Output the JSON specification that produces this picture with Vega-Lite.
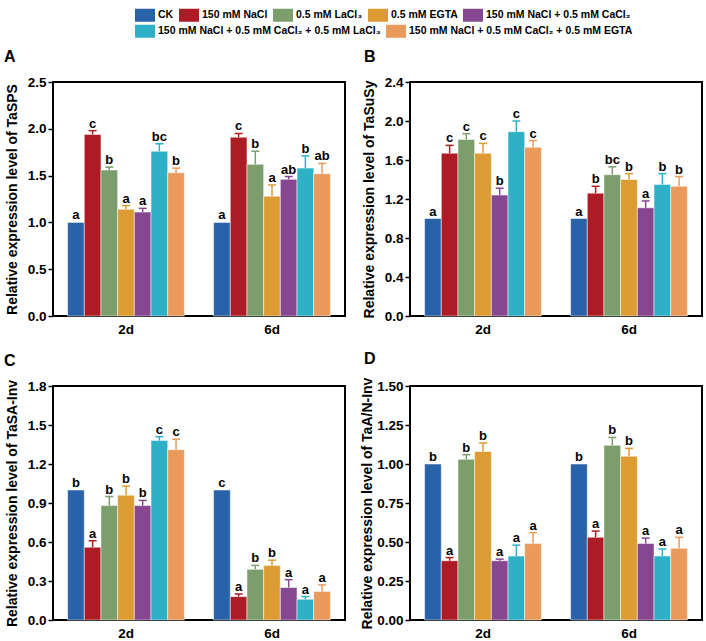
{
  "$schema": "https://vega.github.io/schema/vega-lite/v6.json",
  "padding": {"left": 3, "top": 5, "right": 2, "bottom": 2},
  "background": "white",
  "config": {
    "font": "Liberation Sans",
    "view": {"stroke": "black", "strokeWidth": 2},
    "tick": {"opacity": 1},
    "axis": {"labelFont": "Liberation Sans", "labelFontWeight": "bold", "labelColor": "black", "titleColor": "black", "titleFont": "Liberation Sans", "grid": false, "domain": false},
    "axisY": {"tickColor": "black", "tickWidth": 1.5, "tickSize": 5, "labelFontSize": 13.5, "titleFontSize": 14, "titleFontWeight": "bold", "titlePadding": 8, "labelPadding": 2, "labelOverlap": false},
    "axisX": {"ticks": false, "labelFontSize": 13.5, "labelPadding": 6, "labelAngle": 0},
    "title": {"fontSize": 16, "fontWeight": "bold", "anchor": "start", "frame": "group", "offset": 10, "color": "black", "font": "Liberation Sans"}
  },
  "resolve": {"scale": {"color": "shared", "fill": "shared"}, "legend": {"color": "shared", "fill": "shared"}},
  "datasets": {
    "rows": [
      {"gene": "A", "day": "2d", "trt": "CK", "value": 1.0, "upper": 1.0, "letter": "a"},
      {"gene": "A", "day": "2d", "trt": "150 mM NaCl", "value": 1.94, "upper": 1.98, "letter": "c"},
      {"gene": "A", "day": "2d", "trt": "0.5 mM LaCl₃", "value": 1.56, "upper": 1.59, "letter": "b"},
      {"gene": "A", "day": "2d", "trt": "0.5 mM EGTA", "value": 1.14, "upper": 1.18, "letter": "a"},
      {"gene": "A", "day": "2d", "trt": "150 mM NaCl + 0.5 mM CaCl₂", "value": 1.11, "upper": 1.15, "letter": "a"},
      {"gene": "A", "day": "2d", "trt": "150 mM NaCl + 0.5 mM CaCl₂ + 0.5 mM LaCl₃", "value": 1.76, "upper": 1.84, "letter": "bc"},
      {"gene": "A", "day": "2d", "trt": "150 mM NaCl + 0.5 mM CaCl₂ + 0.5 mM EGTA", "value": 1.53, "upper": 1.58, "letter": "b"},
      {"gene": "A", "day": "6d", "trt": "CK", "value": 1.0, "upper": 1.0, "letter": "a"},
      {"gene": "A", "day": "6d", "trt": "150 mM NaCl", "value": 1.91, "upper": 1.95, "letter": "c"},
      {"gene": "A", "day": "6d", "trt": "0.5 mM LaCl₃", "value": 1.62, "upper": 1.76, "letter": "b"},
      {"gene": "A", "day": "6d", "trt": "0.5 mM EGTA", "value": 1.28, "upper": 1.40, "letter": "a"},
      {"gene": "A", "day": "6d", "trt": "150 mM NaCl + 0.5 mM CaCl₂", "value": 1.46, "upper": 1.49, "letter": "ab"},
      {"gene": "A", "day": "6d", "trt": "150 mM NaCl + 0.5 mM CaCl₂ + 0.5 mM LaCl₃", "value": 1.58, "upper": 1.71, "letter": "b"},
      {"gene": "A", "day": "6d", "trt": "150 mM NaCl + 0.5 mM CaCl₂ + 0.5 mM EGTA", "value": 1.52, "upper": 1.63, "letter": "ab"},
      {"gene": "B", "day": "2d", "trt": "CK", "value": 1.0, "upper": 1.0, "letter": "a"},
      {"gene": "B", "day": "2d", "trt": "150 mM NaCl", "value": 1.67, "upper": 1.75, "letter": "c"},
      {"gene": "B", "day": "2d", "trt": "0.5 mM LaCl₃", "value": 1.81, "upper": 1.87, "letter": "c"},
      {"gene": "B", "day": "2d", "trt": "0.5 mM EGTA", "value": 1.67, "upper": 1.77, "letter": "c"},
      {"gene": "B", "day": "2d", "trt": "150 mM NaCl + 0.5 mM CaCl₂", "value": 1.24, "upper": 1.31, "letter": "b"},
      {"gene": "B", "day": "2d", "trt": "150 mM NaCl + 0.5 mM CaCl₂ + 0.5 mM LaCl₃", "value": 1.89, "upper": 2.0, "letter": "c"},
      {"gene": "B", "day": "2d", "trt": "150 mM NaCl + 0.5 mM CaCl₂ + 0.5 mM EGTA", "value": 1.73, "upper": 1.80, "letter": "c"},
      {"gene": "B", "day": "6d", "trt": "CK", "value": 1.0, "upper": 1.0, "letter": "a"},
      {"gene": "B", "day": "6d", "trt": "150 mM NaCl", "value": 1.26, "upper": 1.33, "letter": "b"},
      {"gene": "B", "day": "6d", "trt": "0.5 mM LaCl₃", "value": 1.45, "upper": 1.53, "letter": "bc"},
      {"gene": "B", "day": "6d", "trt": "0.5 mM EGTA", "value": 1.40, "upper": 1.46, "letter": "b"},
      {"gene": "B", "day": "6d", "trt": "150 mM NaCl + 0.5 mM CaCl₂", "value": 1.11, "upper": 1.18, "letter": "a"},
      {"gene": "B", "day": "6d", "trt": "150 mM NaCl + 0.5 mM CaCl₂ + 0.5 mM LaCl₃", "value": 1.35, "upper": 1.46, "letter": "b"},
      {"gene": "B", "day": "6d", "trt": "150 mM NaCl + 0.5 mM CaCl₂ + 0.5 mM EGTA", "value": 1.33, "upper": 1.43, "letter": "b"},
      {"gene": "C", "day": "2d", "trt": "CK", "value": 1.0, "upper": 1.0, "letter": "b"},
      {"gene": "C", "day": "2d", "trt": "150 mM NaCl", "value": 0.56, "upper": 0.61, "letter": "a"},
      {"gene": "C", "day": "2d", "trt": "0.5 mM LaCl₃", "value": 0.88, "upper": 0.95, "letter": "b"},
      {"gene": "C", "day": "2d", "trt": "0.5 mM EGTA", "value": 0.96, "upper": 1.03, "letter": "b"},
      {"gene": "C", "day": "2d", "trt": "150 mM NaCl + 0.5 mM CaCl₂", "value": 0.88, "upper": 0.92, "letter": "b"},
      {"gene": "C", "day": "2d", "trt": "150 mM NaCl + 0.5 mM CaCl₂ + 0.5 mM LaCl₃", "value": 1.38, "upper": 1.41, "letter": "c"},
      {"gene": "C", "day": "2d", "trt": "150 mM NaCl + 0.5 mM CaCl₂ + 0.5 mM EGTA", "value": 1.31, "upper": 1.39, "letter": "c"},
      {"gene": "C", "day": "6d", "trt": "CK", "value": 1.0, "upper": 1.0, "letter": "c"},
      {"gene": "C", "day": "6d", "trt": "150 mM NaCl", "value": 0.18, "upper": 0.20, "letter": "a"},
      {"gene": "C", "day": "6d", "trt": "0.5 mM LaCl₃", "value": 0.39, "upper": 0.42, "letter": "b"},
      {"gene": "C", "day": "6d", "trt": "0.5 mM EGTA", "value": 0.42, "upper": 0.46, "letter": "b"},
      {"gene": "C", "day": "6d", "trt": "150 mM NaCl + 0.5 mM CaCl₂", "value": 0.25, "upper": 0.31, "letter": "a"},
      {"gene": "C", "day": "6d", "trt": "150 mM NaCl + 0.5 mM CaCl₂ + 0.5 mM LaCl₃", "value": 0.16, "upper": 0.18, "letter": "a"},
      {"gene": "C", "day": "6d", "trt": "150 mM NaCl + 0.5 mM CaCl₂ + 0.5 mM EGTA", "value": 0.22, "upper": 0.27, "letter": "a"},
      {"gene": "D", "day": "2d", "trt": "CK", "value": 1.0, "upper": 1.0, "letter": "b"},
      {"gene": "D", "day": "2d", "trt": "150 mM NaCl", "value": 0.38, "upper": 0.40, "letter": "a"},
      {"gene": "D", "day": "2d", "trt": "0.5 mM LaCl₃", "value": 1.03, "upper": 1.06, "letter": "b"},
      {"gene": "D", "day": "2d", "trt": "0.5 mM EGTA", "value": 1.08, "upper": 1.135, "letter": "b"},
      {"gene": "D", "day": "2d", "trt": "150 mM NaCl + 0.5 mM CaCl₂", "value": 0.38, "upper": 0.39, "letter": "a"},
      {"gene": "D", "day": "2d", "trt": "150 mM NaCl + 0.5 mM CaCl₂ + 0.5 mM LaCl₃", "value": 0.41, "upper": 0.48, "letter": "a"},
      {"gene": "D", "day": "2d", "trt": "150 mM NaCl + 0.5 mM CaCl₂ + 0.5 mM EGTA", "value": 0.49, "upper": 0.56, "letter": "a"},
      {"gene": "D", "day": "6d", "trt": "CK", "value": 1.0, "upper": 1.0, "letter": "b"},
      {"gene": "D", "day": "6d", "trt": "150 mM NaCl", "value": 0.53, "upper": 0.57, "letter": "a"},
      {"gene": "D", "day": "6d", "trt": "0.5 mM LaCl₃", "value": 1.12, "upper": 1.17, "letter": "b"},
      {"gene": "D", "day": "6d", "trt": "0.5 mM EGTA", "value": 1.05, "upper": 1.10, "letter": "b"},
      {"gene": "D", "day": "6d", "trt": "150 mM NaCl + 0.5 mM CaCl₂", "value": 0.49, "upper": 0.525, "letter": "a"},
      {"gene": "D", "day": "6d", "trt": "150 mM NaCl + 0.5 mM CaCl₂ + 0.5 mM LaCl₃", "value": 0.41, "upper": 0.455, "letter": "a"},
      {"gene": "D", "day": "6d", "trt": "150 mM NaCl + 0.5 mM CaCl₂ + 0.5 mM EGTA", "value": 0.46, "upper": 0.53, "letter": "a"}
    ]
  },
  "spacing": 13,
  "vconcat": [
    {
      "width": 600, "height": 30,
      "view": {"stroke": null},
      "data": {"values": []},
      "mark": {"type": "text"},
      "encoding": {}
    },
    {
      "spacing": {"row": 13, "column": 13},
      "columns": 2,
      "concat": [
        {
          "width": 292, "height": 234,
          "title": {"text": "A", "dx": -49},
          "data": {"name": "rows"},
          "transform": [{"filter": "datum.gene === 'A'"}],
          "encoding": {
            "x": {"field": "day", "type": "nominal", "title": null, "scale": {"paddingInner": 0.2, "paddingOuter": 0.1}},
            "xOffset": {"field": "trt", "type": "nominal", "sort": ["CK", "150 mM NaCl", "0.5 mM LaCl₃", "0.5 mM EGTA", "150 mM NaCl + 0.5 mM CaCl₂", "150 mM NaCl + 0.5 mM CaCl₂ + 0.5 mM LaCl₃", "150 mM NaCl + 0.5 mM CaCl₂ + 0.5 mM EGTA"], "scale": {"paddingInner": 0}}
          },
          "layer": [
            {"mark": {"type": "bar", "stroke": "white", "strokeWidth": 0.5},
             "encoding": {
               "y": {"field": "value", "type": "quantitative", "title": "Relative expression level of TaSPS", "scale": {"domain": [0, 2.5], "nice": false}, "axis": {"values": [0, 0.5, 1.0, 1.5, 2.0, 2.5], "format": ".1f"}},
               "color": {"field": "trt", "type": "nominal",
                 "scale": {"domain": ["CK", "150 mM NaCl", "0.5 mM LaCl₃", "0.5 mM EGTA", "150 mM NaCl + 0.5 mM CaCl₂", "150 mM NaCl + 0.5 mM CaCl₂ + 0.5 mM LaCl₃", "150 mM NaCl + 0.5 mM CaCl₂ + 0.5 mM EGTA"], "range": ["#2862a9", "#ad1b24", "#7b9e6c", "#dd9b34", "#85478f", "#2eb0c7", "#ea9a5a"]},
                 "legend": {"title": null, "orient": "none", "legendX": 82, "legendY": 0, "direction": "horizontal",
                   "values": ["CK", "150 mM NaCl", "0.5 mM LaCl₃", "0.5 mM EGTA", "150 mM NaCl + 0.5 mM CaCl₂"],
                   "symbolType": "M-1,-0.65H1V0.65H-1Z", "symbolSize": 400, "symbolStrokeWidth": 0, "symbolOpacity": 1,
                   "labelFont": "Liberation Sans", "labelFontWeight": "bold", "labelFontSize": 10.5, "labelColor": "black", "labelLimit": 400,
                   "labelOffset": 3, "columnPadding": 5, "padding": 0}}
             }},
            {"transform": [{"filter": "datum.upper > datum.value"}], "mark": {"type": "rule", "strokeWidth": 1.5},
             "encoding": {"y": {"field": "value", "type": "quantitative", "title": "Relative expression level of TaSPS", "scale": {"domain": [0, 2.5], "nice": false}, "axis": {"values": [0, 0.5, 1.0, 1.5, 2.0, 2.5], "format": ".1f"}}, "y2": {"field": "upper"},
               "stroke": {"field": "trt", "type": "nominal", "legend": null, "scale": {"domain": ["CK", "150 mM NaCl", "0.5 mM LaCl₃", "0.5 mM EGTA", "150 mM NaCl + 0.5 mM CaCl₂", "150 mM NaCl + 0.5 mM CaCl₂ + 0.5 mM LaCl₃", "150 mM NaCl + 0.5 mM CaCl₂ + 0.5 mM EGTA"], "range": ["#2862a9", "#ad1b24", "#7b9e6c", "#dd9b34", "#85478f", "#2eb0c7", "#ea9a5a"]}}}},
            {"transform": [{"filter": "datum.upper > datum.value"}], "mark": {"type": "tick", "thickness": 1.5, "size": 8, "opacity": 1},
             "encoding": {"y": {"field": "upper", "type": "quantitative", "title": "Relative expression level of TaSPS", "scale": {"domain": [0, 2.5], "nice": false}, "axis": {"values": [0, 0.5, 1.0, 1.5, 2.0, 2.5], "format": ".1f"}},
               "fill": {"field": "trt", "type": "nominal",
                 "scale": {"domain": ["150 mM NaCl + 0.5 mM CaCl₂ + 0.5 mM LaCl₃", "150 mM NaCl + 0.5 mM CaCl₂ + 0.5 mM EGTA", "CK", "150 mM NaCl", "0.5 mM LaCl₃", "0.5 mM EGTA", "150 mM NaCl + 0.5 mM CaCl₂"], "range": ["#2eb0c7", "#ea9a5a", "#2862a9", "#ad1b24", "#7b9e6c", "#dd9b34", "#85478f"]},
                 "legend": {"title": null, "orient": "none", "legendX": 82, "legendY": 16, "direction": "horizontal",
                   "values": ["150 mM NaCl + 0.5 mM CaCl₂ + 0.5 mM LaCl₃", "150 mM NaCl + 0.5 mM CaCl₂ + 0.5 mM EGTA"],
                   "symbolType": "M-1,-0.65H1V0.65H-1Z", "symbolSize": 400, "symbolStrokeWidth": 0, "symbolOpacity": 1,
                   "labelFont": "Liberation Sans", "labelFontWeight": "bold", "labelFontSize": 10.5, "labelColor": "black", "labelLimit": 400,
                   "labelOffset": 3, "columnPadding": 5, "padding": 0}}}},
            {"mark": {"type": "text", "dy": -3, "baseline": "alphabetic", "fontWeight": "bold", "fontSize": 13, "color": "black", "font": "Liberation Sans"},
             "encoding": {"y": {"field": "upper", "type": "quantitative", "title": "Relative expression level of TaSPS", "scale": {"domain": [0, 2.5], "nice": false}, "axis": {"values": [0, 0.5, 1.0, 1.5, 2.0, 2.5], "format": ".1f"}}, "text": {"field": "letter"}}}
          ]
        },
        {
          "width": 292, "height": 234,
          "title": {"text": "B", "dx": -46},
          "data": {"name": "rows"},
          "transform": [{"filter": "datum.gene === 'B'"}],
          "encoding": {
            "x": {"field": "day", "type": "nominal", "title": null, "scale": {"paddingInner": 0.2, "paddingOuter": 0.1}},
            "xOffset": {"field": "trt", "type": "nominal", "sort": ["CK", "150 mM NaCl", "0.5 mM LaCl₃", "0.5 mM EGTA", "150 mM NaCl + 0.5 mM CaCl₂", "150 mM NaCl + 0.5 mM CaCl₂ + 0.5 mM LaCl₃", "150 mM NaCl + 0.5 mM CaCl₂ + 0.5 mM EGTA"], "scale": {"paddingInner": 0}}
          },
          "layer": [
            {"mark": {"type": "bar", "stroke": "white", "strokeWidth": 0.5},
             "encoding": {
               "y": {"field": "value", "type": "quantitative", "title": "Relative expression level of TaSuSy", "scale": {"domain": [0, 2.4], "nice": false}, "axis": {"values": [0, 0.4, 0.8, 1.2, 1.6, 2.0, 2.4], "format": ".1f"}},
               "color": {"field": "trt", "type": "nominal"}
             }},
            {"transform": [{"filter": "datum.upper > datum.value"}], "mark": {"type": "rule", "strokeWidth": 1.5},
             "encoding": {"y": {"field": "value", "type": "quantitative", "title": "Relative expression level of TaSuSy", "scale": {"domain": [0, 2.4], "nice": false}, "axis": {"values": [0, 0.4, 0.8, 1.2, 1.6, 2.0, 2.4], "format": ".1f"}}, "y2": {"field": "upper"},
               "stroke": {"field": "trt", "type": "nominal", "legend": null}}},
            {"transform": [{"filter": "datum.upper > datum.value"}], "mark": {"type": "tick", "thickness": 1.5, "size": 8, "opacity": 1},
             "encoding": {"y": {"field": "upper", "type": "quantitative", "title": "Relative expression level of TaSuSy", "scale": {"domain": [0, 2.4], "nice": false}, "axis": {"values": [0, 0.4, 0.8, 1.2, 1.6, 2.0, 2.4], "format": ".1f"}},
               "fill": {"field": "trt", "type": "nominal"}}},
            {"mark": {"type": "text", "dy": -3, "baseline": "alphabetic", "fontWeight": "bold", "fontSize": 13, "color": "black", "font": "Liberation Sans"},
             "encoding": {"y": {"field": "upper", "type": "quantitative", "title": "Relative expression level of TaSuSy", "scale": {"domain": [0, 2.4], "nice": false}, "axis": {"values": [0, 0.4, 0.8, 1.2, 1.6, 2.0, 2.4], "format": ".1f"}}, "text": {"field": "letter"}}}
          ]
        },
        {
          "width": 292, "height": 234,
          "title": {"text": "C", "dx": -49},
          "data": {"name": "rows"},
          "transform": [{"filter": "datum.gene === 'C'"}],
          "encoding": {
            "x": {"field": "day", "type": "nominal", "title": null, "scale": {"paddingInner": 0.2, "paddingOuter": 0.1}},
            "xOffset": {"field": "trt", "type": "nominal", "sort": ["CK", "150 mM NaCl", "0.5 mM LaCl₃", "0.5 mM EGTA", "150 mM NaCl + 0.5 mM CaCl₂", "150 mM NaCl + 0.5 mM CaCl₂ + 0.5 mM LaCl₃", "150 mM NaCl + 0.5 mM CaCl₂ + 0.5 mM EGTA"], "scale": {"paddingInner": 0}}
          },
          "layer": [
            {"mark": {"type": "bar", "stroke": "white", "strokeWidth": 0.5},
             "encoding": {
               "y": {"field": "value", "type": "quantitative", "title": "Relative expression level of TaSA-Inv", "scale": {"domain": [0, 1.8], "nice": false}, "axis": {"values": [0, 0.3, 0.6, 0.9, 1.2, 1.5, 1.8], "format": ".1f"}},
               "color": {"field": "trt", "type": "nominal"}
             }},
            {"transform": [{"filter": "datum.upper > datum.value"}], "mark": {"type": "rule", "strokeWidth": 1.5},
             "encoding": {"y": {"field": "value", "type": "quantitative", "title": "Relative expression level of TaSA-Inv", "scale": {"domain": [0, 1.8], "nice": false}, "axis": {"values": [0, 0.3, 0.6, 0.9, 1.2, 1.5, 1.8], "format": ".1f"}}, "y2": {"field": "upper"},
               "stroke": {"field": "trt", "type": "nominal", "legend": null}}},
            {"transform": [{"filter": "datum.upper > datum.value"}], "mark": {"type": "tick", "thickness": 1.5, "size": 8, "opacity": 1},
             "encoding": {"y": {"field": "upper", "type": "quantitative", "title": "Relative expression level of TaSA-Inv", "scale": {"domain": [0, 1.8], "nice": false}, "axis": {"values": [0, 0.3, 0.6, 0.9, 1.2, 1.5, 1.8], "format": ".1f"}},
               "fill": {"field": "trt", "type": "nominal"}}},
            {"mark": {"type": "text", "dy": -3, "baseline": "alphabetic", "fontWeight": "bold", "fontSize": 13, "color": "black", "font": "Liberation Sans"},
             "encoding": {"y": {"field": "upper", "type": "quantitative", "title": "Relative expression level of TaSA-Inv", "scale": {"domain": [0, 1.8], "nice": false}, "axis": {"values": [0, 0.3, 0.6, 0.9, 1.2, 1.5, 1.8], "format": ".1f"}}, "text": {"field": "letter"}}}
          ]
        },
        {
          "width": 292, "height": 234,
          "title": {"text": "D", "dx": -46},
          "data": {"name": "rows"},
          "transform": [{"filter": "datum.gene === 'D'"}],
          "encoding": {
            "x": {"field": "day", "type": "nominal", "title": null, "scale": {"paddingInner": 0.2, "paddingOuter": 0.1}},
            "xOffset": {"field": "trt", "type": "nominal", "sort": ["CK", "150 mM NaCl", "0.5 mM LaCl₃", "0.5 mM EGTA", "150 mM NaCl + 0.5 mM CaCl₂", "150 mM NaCl + 0.5 mM CaCl₂ + 0.5 mM LaCl₃", "150 mM NaCl + 0.5 mM CaCl₂ + 0.5 mM EGTA"], "scale": {"paddingInner": 0}}
          },
          "layer": [
            {"mark": {"type": "bar", "stroke": "white", "strokeWidth": 0.5},
             "encoding": {
               "y": {"field": "value", "type": "quantitative", "title": "Relative expression level of TaA/N-Inv", "scale": {"domain": [0, 1.5], "nice": false}, "axis": {"values": [0, 0.25, 0.5, 0.75, 1.0, 1.25, 1.5], "format": ".2f", "titlePadding": 2}},
               "color": {"field": "trt", "type": "nominal"}
             }},
            {"transform": [{"filter": "datum.upper > datum.value"}], "mark": {"type": "rule", "strokeWidth": 1.5},
             "encoding": {"y": {"field": "value", "type": "quantitative", "title": "Relative expression level of TaA/N-Inv", "scale": {"domain": [0, 1.5], "nice": false}, "axis": {"values": [0, 0.25, 0.5, 0.75, 1.0, 1.25, 1.5], "format": ".2f", "titlePadding": 2}}, "y2": {"field": "upper"},
               "stroke": {"field": "trt", "type": "nominal", "legend": null}}},
            {"transform": [{"filter": "datum.upper > datum.value"}], "mark": {"type": "tick", "thickness": 1.5, "size": 8, "opacity": 1},
             "encoding": {"y": {"field": "upper", "type": "quantitative", "title": "Relative expression level of TaA/N-Inv", "scale": {"domain": [0, 1.5], "nice": false}, "axis": {"values": [0, 0.25, 0.5, 0.75, 1.0, 1.25, 1.5], "format": ".2f", "titlePadding": 2}},
               "fill": {"field": "trt", "type": "nominal"}}},
            {"mark": {"type": "text", "dy": -3, "baseline": "alphabetic", "fontWeight": "bold", "fontSize": 13, "color": "black", "font": "Liberation Sans"},
             "encoding": {"y": {"field": "upper", "type": "quantitative", "title": "Relative expression level of TaA/N-Inv", "scale": {"domain": [0, 1.5], "nice": false}, "axis": {"values": [0, 0.25, 0.5, 0.75, 1.0, 1.25, 1.5], "format": ".2f", "titlePadding": 2}}, "text": {"field": "letter"}}}
          ]
        }
      ]
    }
  ]
}
